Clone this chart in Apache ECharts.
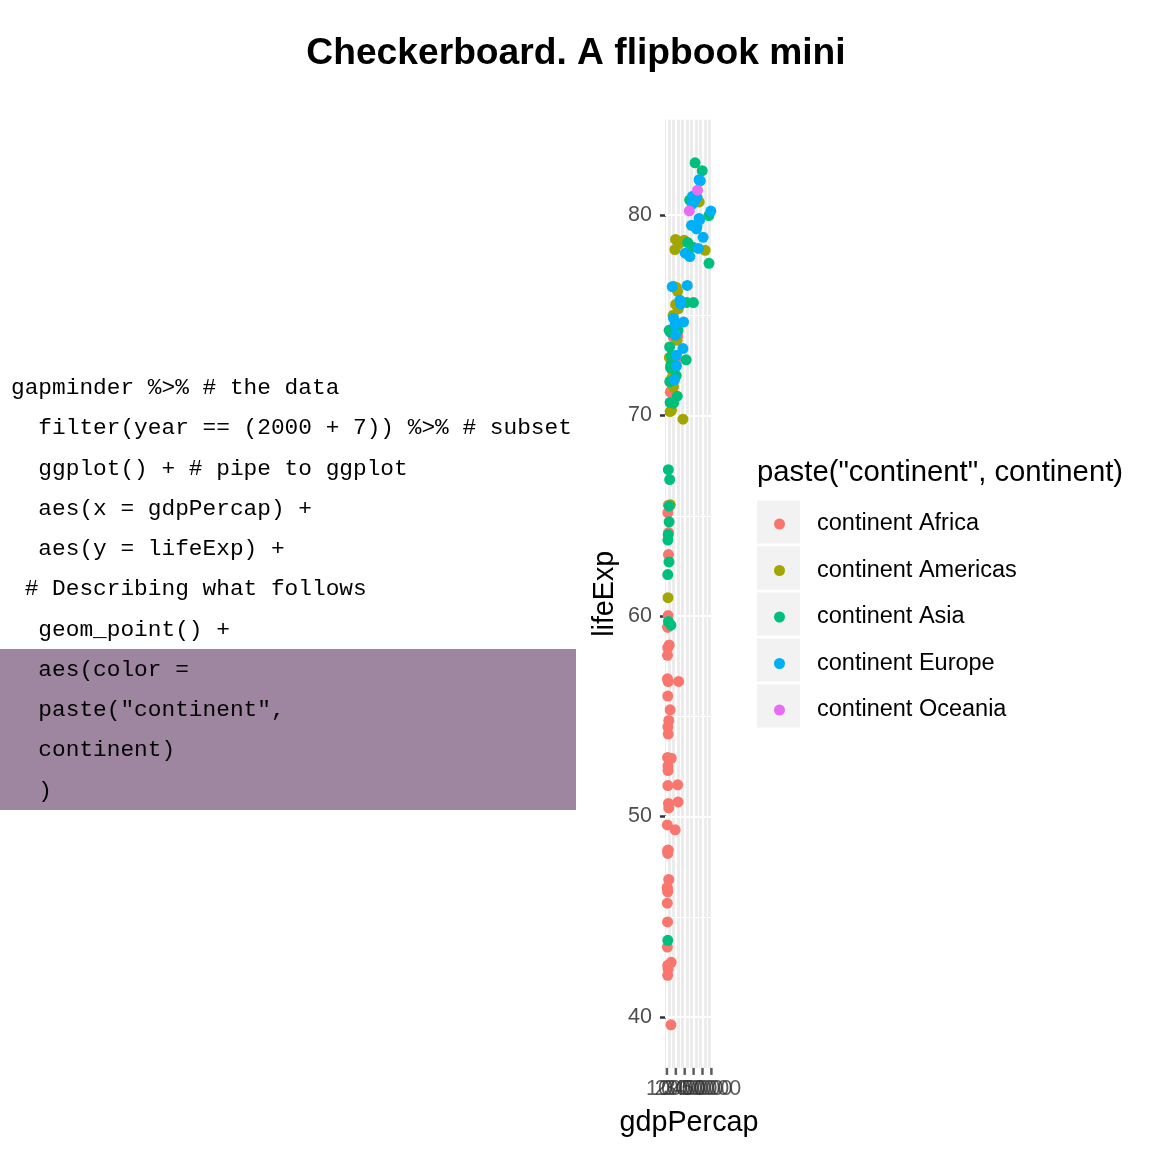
<!DOCTYPE html>
<html><head><meta charset="utf-8">
<script src="https://cdn.jsdelivr.net/npm/echarts@6/dist/echarts.min.js"></script>
<style>html,body{margin:0;padding:0;background:#fff}#c{width:1152px;height:1152px}</style>
</head><body><div id="c"></div>
<script>
// gapminder, year 2007: [gdpPercap, lifeExp]
const africa = [[6223.367,72.301],[4797.231,42.731],[1441.285,56.728],[12569.85,50.728],[1217.033,52.295],[430.0707,49.580],[2042.095,50.430],[706.0165,44.741],[1704.064,50.651],[986.1479,65.152],[277.5519,46.462],[3632.558,55.322],[1544.750,48.328],[2082.482,54.791],[5581.181,71.338],[12154.09,51.579],[641.3695,58.040],[690.8056,52.947],[13206.48,56.735],[752.7497,59.448],[1327.609,60.022],[942.6542,56.007],[579.2317,46.388],[1463.249,54.110],[1569.331,42.592],[414.5073,45.678],[12057.50,73.952],[1044.770,59.443],[759.3499,48.303],[1042.582,54.467],[1803.151,64.164],[10956.99,72.801],[3820.175,71.164],[823.6856,42.082],[4811.060,52.906],[619.6769,56.867],[2013.977,46.859],[7670.123,76.442],[863.0885,46.242],[1598.435,65.528],[1712.472,63.062],[862.5408,42.568],[926.1411,48.159],[9269.658,49.339],[2602.395,58.556],[4513.481,39.613],[1107.482,52.517],[882.9699,58.420],[7092.923,73.923],[1056.380,51.542],[1271.212,42.384],[469.7093,43.487]];
const americas = [[12779.38,75.320],[3822.137,65.554],[9065.801,72.390],[36319.24,80.653],[13171.64,78.553],[7006.580,72.889],[9645.061,78.782],[8948.103,78.273],[6025.375,72.235],[6873.262,74.994],[5728.354,71.878],[5186.050,70.259],[1201.637,60.916],[3548.331,70.198],[7320.880,72.567],[11977.57,76.195],[2749.321,72.899],[9809.186,75.537],[4172.838,71.752],[7408.906,71.421],[19328.71,78.746],[18008.51,69.819],[42951.65,78.242],[10611.46,76.384],[11415.81,73.747]];
const asia = [[974.5803,43.828],[29796.05,75.635],[1391.254,64.062],[1713.779,59.723],[4959.115,72.961],[39724.98,82.208],[2452.210,64.698],[3540.652,70.650],[11605.71,70.964],[4471.062,59.545],[25523.28,80.745],[31656.07,82.603],[4519.461,72.535],[1593.065,67.297],[23348.14,78.623],[47306.99,77.588],[10461.06,71.993],[12451.66,74.241],[3095.772,66.803],[944.0000,62.069],[1091.360,63.785],[22316.19,75.640],[2605.948,65.483],[3190.481,71.688],[21654.83,72.777],[47143.18,79.972],[3970.095,72.396],[4184.548,74.143],[28718.28,78.400],[7458.396,70.616],[2441.577,74.249],[3025.350,73.422],[2280.770,62.698]];
const europe = [[5937.030,76.423],[36126.49,79.829],[33692.61,79.441],[7446.299,74.852],[10680.79,73.005],[14619.22,75.748],[22833.31,76.486],[35278.42,78.332],[33207.08,79.313],[30470.02,80.657],[32170.37,79.406],[27538.41,79.483],[18008.94,73.338],[36180.79,81.757],[40676.00,78.885],[28569.72,80.546],[9253.896,74.543],[36797.93,79.762],[49357.19,80.196],[15389.92,75.563],[20509.65,78.098],[10808.48,72.476],[9786.535,74.002],[18678.31,74.663],[25768.26,77.926],[28821.06,80.941],[33859.75,80.884],[37506.42,81.701],[8458.276,71.777],[33203.26,79.425]];
const oceania = [[34435.37,81.235],[25185.01,80.204]];

const continents = ['continent Africa','continent Americas','continent Asia','continent Europe','continent Oceania'];
const colors = ['#F8766D','#A3A500','#00BF7D','#00B0F6','#E76BF3'];
const seriesData = [africa, americas, asia, europe, oceania];

const xTicks = [0,10000,20000,30000,40000,50000];
const xMinor = [5000,15000,25000,35000,45000];
const yTicks = [40,50,60,70,80];
const yMinor = [45,55,65,75];

const titleText = 'Checkerboard. A flipbook mini';
const legendTitle = 'paste("continent", continent)';
const codeLines = [
  'gapminder %>% # the data',
  '  filter(year == (2000 + 7)) %>% # subset',
  '  ggplot() + # pipe to ggplot',
  '  aes(x = gdpPercap) +',
  '  aes(y = lifeExp) +',
  ' # Describing what follows',
  '  geom_point() +',
  '  aes(color =',
  '  paste("continent",',
  '  continent)',
  '  )'
];
const highlightFrom = 7, highlightTo = 10;

// ggplot-style 5% expansion of the data range
const allPts = seriesData.flat();
const xs = allPts.map(p => p[0]), ys = allPts.map(p => p[1]);
const xLo = Math.min(...xs), xHi = Math.max(...xs);
const yLo = Math.min(...ys), yHi = Math.max(...ys);
const xMin = xLo - 0.05*(xHi-xLo), xMax = xHi + 0.05*(xHi-xLo);
const yMin = yLo - 0.05*(yHi-yLo), yMax = yHi + 0.05*(yHi-yLo);

const SANS = '"Liberation Sans", Arial, Helvetica, sans-serif';
const MONO = '"Liberation Mono", "Courier New", monospace';

const gridLines = [];
xMinor.forEach(v => gridLines.push({xAxis: v, lineStyle: {width: 1.1}}));
yMinor.forEach(v => gridLines.push({yAxis: v, lineStyle: {width: 1.1}}));
xTicks.forEach(v => gridLines.push({xAxis: v, lineStyle: {width: 2.2}}));
yTicks.forEach(v => gridLines.push({yAxis: v, lineStyle: {width: 2.2}}));

const graphics = [];
// code panel
const lineY0 = 388, lineStep = 40.25;
graphics.push({type:'rect', z:0, silent:true,
  shape:{x:0, y:649, width:576, height:lineStep*(highlightTo-highlightFrom+1)},
  style:{fill:'#9F86A0'}});
codeLines.forEach((t,i) => graphics.push({type:'text', z:1, silent:true, x:11, y:lineY0 + lineStep*i,
  style:{text:t, font:'22.8px ' + MONO, fill:'#000', textAlign:'left', textVerticalAlign:'middle'}}));
// legend title and key boxes
graphics.push({type:'text', silent:true, x:757, y:473,
  style:{text:legendTitle, font:'29.3px ' + SANS, fill:'#000', textAlign:'left', textVerticalAlign:'middle'}});
continents.forEach((c,i) => graphics.push({type:'rect', z:0, silent:true,
  shape:{x:757, y:522 + 46*i - 21.5, width:43, height:43}, style:{fill:'#F2F2F2'}}));

const series = [{
  type:'line', name:'grid', data:[], silent:true, z:1,
  markLine:{silent:true, z:1, symbol:['none','none'], animation:false, label:{show:false},
    emphasis:{disabled:true}, lineStyle:{color:'#FFFFFF', type:'solid'}, data:gridLines}
}];
continents.forEach((c,i) => series.push({
  type:'scatter', name:c, data:seriesData[i], symbol:'circle', symbolSize:11, z:3,
  itemStyle:{color:colors[i], opacity:1}, emphasis:{disabled:true}
}));
// x-axis tick marks and tick labels, placed at the bottom edge of the panel through the axis scales
series.push({
  type:'scatter', name:'xTicks', data:xTicks.map(v => [v, yMin]), clip:false, silent:true, z:4,
  symbol:'rect', symbolSize:[2.5, 7], symbolOffset:[0, 3.5],
  itemStyle:{color:'#333333'}, emphasis:{disabled:true},
  label:{show:true, position:'bottom', distance:3, formatter:p => String(p.value[0]),
    color:'#333333', fontSize:21.5, fontFamily:SANS, textBorderWidth:0, textBorderColor:'transparent', textShadowBlur:0}
});

const chart = echarts.init(document.getElementById('c'), null, {renderer:'canvas'});
chart.setOption({
  animation:false,
  backgroundColor:'#FFFFFF',
  title:{text:titleText, left:'center', top:35, padding:0,
    textStyle:{fontSize:37.2, fontWeight:'bold', color:'#000', fontFamily:SANS, lineHeight:37}},
  grid:{left:665, right:439, top:119.7, bottom:84.1, show:true, backgroundColor:'#EBEBEB', borderWidth:0, containLabel:false, outerBoundsMode:'none'},
  xAxis:{type:'value', min:xMin, max:xMax,
    axisLine:{show:false}, axisTick:{show:false}, axisLabel:{show:false},
    splitLine:{show:false},
    name:'gdpPercap', nameLocation:'middle', nameGap:41,
    nameTextStyle:{fontSize:28.7, color:'#000', fontFamily:SANS}},
  yAxis:{type:'value', min:yMin, max:yMax,
    axisLine:{show:false},
    axisTick:{show:true, interval:0, customValues:yTicks, length:7, lineStyle:{color:'#333333', width:2.5}},
    axisLabel:{interval:0, customValues:yTicks, formatter:v => String(v), color:'#4D4D4D', fontSize:21.5, fontFamily:SANS, margin:13, hideOverlap:false, showMinLabel:true, showMaxLabel:true},
    splitLine:{show:false},
    name:'lifeExp', nameLocation:'middle', nameGap:45, nameRotate:90,
    nameTextStyle:{fontSize:28.7, color:'#000', fontFamily:SANS}},
  legend:{data:continents, orient:'vertical', left:774, top:512, padding:0,
    itemWidth:11, itemHeight:11, itemGap:22.5, icon:'circle', selectedMode:false,
    textStyle:{fontSize:23.5, color:'#000', fontFamily:SANS, lineHeight:23.5, padding:[0,0,0,27]}},
  graphic:graphics,
  series:series
});
</script></body></html>
